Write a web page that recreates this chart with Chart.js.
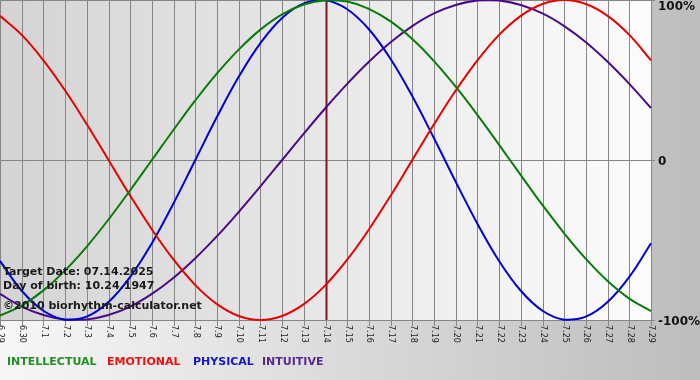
<!DOCTYPE html>
<html>
<head>
<meta charset="utf-8">
<script src="https://cdn.jsdelivr.net/npm/chart.js@4/dist/chart.umd.min.js"></script>
<style>
html,body{margin:0;padding:0;background:#fff;}
#wrap{width:700px;height:380px;}
</style>
</head>
<body>
<div id="wrap"><canvas id="c" width="700" height="380"></canvas></div>
<script>
const dayLabels = ['6.29','6.30','7.1','7.2','7.3','7.4','7.5','7.6','7.7','7.8','7.9','7.10','7.11','7.12','7.13','7.14','7.15','7.16','7.17','7.18','7.19','7.20','7.21','7.22','7.23','7.24','7.25','7.26','7.27','7.28','7.29'];
const intellectual = [-0.972,-0.910,-0.815,-0.690,-0.541,-0.372,-0.189,0,0.189,0.372,0.541,0.690,0.815,0.910,0.972,0.999,0.990,0.945,0.866,0.756,0.618,0.458,0.282,0.095,-0.095,-0.282,-0.458,-0.618,-0.756,-0.866,-0.945];
const emotional = [0.901,0.782,0.623,0.434,0.223,0,-0.223,-0.434,-0.623,-0.782,-0.901,-0.975,-1,-0.975,-0.901,-0.782,-0.623,-0.434,-0.223,0,0.223,0.434,0.623,0.782,0.901,0.975,1,0.975,0.901,0.782,0.623];
const physical = [-0.631,-0.817,-0.942,-0.998,-0.979,-0.888,-0.731,-0.520,-0.270,0,0.270,0.520,0.731,0.888,0.979,0.998,0.942,0.817,0.631,0.398,0.136,-0.136,-0.398,-0.631,-0.817,-0.942,-0.998,-0.979,-0.888,-0.731,-0.520];
const intuitive = [-0.837,-0.916,-0.969,-0.997,-0.997,-0.969,-0.916,-0.837,-0.736,-0.614,-0.476,-0.325,-0.165,0,0.165,0.325,0.476,0.614,0.736,0.837,0.916,0.969,0.997,0.997,0.969,0.916,0.837,0.736,0.614,0.476,0.325];
const seriesNames = ['INTELLECTUAL','EMOTIONAL','PHYSICAL','INTUITIVE'];
const yTickValues = [1,0,-1];
const yTickLabels = ['100%','0','-100%'];
const targetDay = '7.14';
const infoLines = ['Target Date: 07.14.2025','Day of birth: 10.24.1947','\u00A92010 biorhythm-calculator.net'];

const lineColors = ['#0a7a0a','#e80000','#0000d4','#4a0c86'];
const legendColors = ['#1f8f1f','#ee1111','#1515cc','#5a2690'];
const legendX = [7,107,193,262];

const bgPlugin = {
  id:'bg',
  beforeDraw(chart){
    const ctx = chart.ctx, a = chart.chartArea, xs = chart.scales.x, ys = chart.scales.y;
    ctx.save();
    let g = ctx.createLinearGradient(0,0,chart.width,0);
    g.addColorStop(0,'#f7f7f7'); g.addColorStop(1,'#bdbdbd');
    ctx.fillStyle = g; ctx.fillRect(0,0,chart.width,chart.height);
    g = ctx.createLinearGradient(a.left,0,a.right,0);
    g.addColorStop(0,'#d4d4d4'); g.addColorStop(1,'#fcfcfc');
    ctx.fillStyle = g; ctx.fillRect(a.left,a.top,a.right-a.left,a.bottom-a.top);
    ctx.strokeStyle = '#868686'; ctx.lineWidth = 1;
    ctx.beginPath();
    dayLabels.forEach((l,i)=>{
      const x = Math.round(xs.getPixelForValue(i))+0.5;
      ctx.moveTo(x,a.top); ctx.lineTo(x,a.bottom+6);
    });
    yTickValues.forEach(v=>{
      const y = Math.round(ys.getPixelForValue(v))+0.5;
      ctx.moveTo(a.left,y); ctx.lineTo(a.right+4,y);
    });
    ctx.stroke();
    const ti = dayLabels.indexOf(targetDay);
    const tx = Math.round(xs.getPixelForValue(ti));
    ctx.fillStyle = '#7a1a1a';
    ctx.fillRect(tx-0.5,a.top,2,a.bottom-a.top);
    ctx.fillStyle = '#222';
    ctx.font = '8px "DejaVu Sans"';
    ctx.textAlign = 'left'; ctx.textBaseline = 'middle';
    dayLabels.forEach((l,i)=>{
      const x = xs.getPixelForValue(i);
      ctx.save(); ctx.translate(x+0.5,a.bottom+5); ctx.rotate(Math.PI/2);
      ctx.fillText(l,0,0); ctx.restore();
    });
    ctx.fillStyle = '#111';
    ctx.font = 'bold 12px "DejaVu Sans"';
    yTickValues.forEach((v,i)=>{
      let y = ys.getPixelForValue(v)+2;
      if (y < a.top+7) y = a.top+7;
      ctx.fillText(yTickLabels[i],658,y);
    });
    ctx.restore();
  },
  afterDatasetsDraw(chart){
    const ctx = chart.ctx;
    ctx.save();
    ctx.font = 'bold 11px "DejaVu Sans"';
    ctx.textAlign='left'; ctx.textBaseline='middle';
    ctx.fillStyle = '#1a1a1a';
    const ly = [272,286,306];
    infoLines.forEach((t,i)=>ctx.fillText(t,3,ly[i]));
    seriesNames.forEach((n,i)=>{
      ctx.fillStyle = legendColors[i];
      ctx.fillText(n,legendX[i],362);
    });
    ctx.restore();
  }
};

const dataSeries = [intellectual,emotional,physical,intuitive];
new Chart(document.getElementById('c'),{
  type:'line',
  data:{
    labels: dayLabels,
    datasets: dataSeries.map((d,i)=>({
      label: seriesNames[i], data: d, borderColor: lineColors[i], borderWidth: 2,
      pointRadius: 0, tension: 0.4, fill: false, clip: 4
    }))
  },
  options:{
    responsive:false, animation:false, devicePixelRatio:1,
    layout:{padding:{left:0,top:0,right:49,bottom:60}},
    plugins:{legend:{display:false}, tooltip:{enabled:false}},
    scales:{
      x:{display:false},
      y:{display:false,min:-1,max:1}
    }
  },
  plugins:[bgPlugin]
});
</script>
</body>
</html>
